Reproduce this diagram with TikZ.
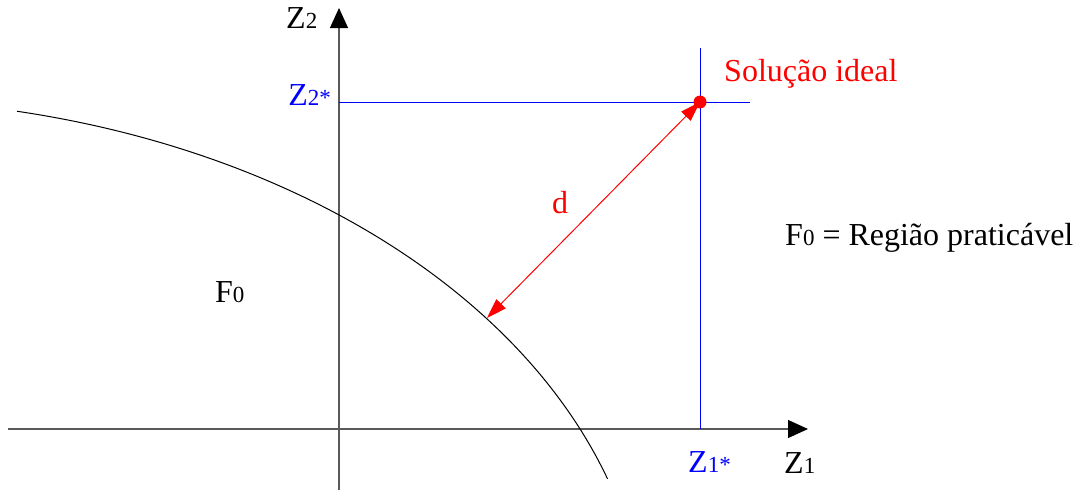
\documentclass[tikz,border=0pt]{standalone}
\usepackage{fontspec}
\setmainfont{Liberation Serif}
\newfontfamily\tms{Liberation Serif}
\usetikzlibrary{arrows.meta}
\newcommand\smn[1]{{\fontsize{23}{25}\selectfont #1}}
\begin{document}
\begin{tikzpicture}[x=1pt,y=-1pt,
  lbl/.style={inner sep=0pt,font=\tms\fontsize{32}{36}\selectfont},
  axis/.style={draw=black!65,line width=1.1pt,-{Triangle[length=20pt,width=18pt,black]}},
  guide/.style={draw=blue,line width=1pt},
  frontier/.style={draw=black,line width=1pt},
  dist/.style={draw=red,line width=1pt,{Triangle[length=20pt,width=13pt]}-{Triangle[length=20pt,width=13pt]}}]
\useasboundingbox (0,0) rectangle (1084,490);
% coordinates
\coordinate (yb) at (339,490);
\coordinate (yt) at (339,8);
\coordinate (xl) at (8,429);
\coordinate (xr) at (808,429);
\coordinate (hl) at (339,102);
\coordinate (hr) at (750,102);
\coordinate (vt) at (700,48);
\coordinate (vb) at (700,429);
\coordinate (ideal) at (700,102);
\coordinate (foot) at (487,318);
\coordinate (ec) at (-150,650);
% axes
\draw[axis] (xl) -- (xr);
\draw[axis] (yb) -- (yt);
% guide lines
\draw[guide] (hl) -- (hr);
\draw[guide] (vt) -- (vb);
% frontier (elliptic arc)
\draw[frontier] ([shift={(-77.9:797 and 551)}]ec) arc[start angle=-77.9, end angle=-18.1, x radius=797, y radius=551];
% distance
\draw[dist] (foot) -- (ideal);
\fill[red] (ideal) circle (6.5);
% labels
\node[lbl,anchor=base west] (z2) at (286,28) {Z\smn{2}};
\node[lbl,anchor=base east,text=blue] (z2s) at (331,105) {Z\smn{2*}};
\node[lbl,anchor=base west,text=blue] (z1s) at (688,472) {Z\smn{1*}};
\node[lbl,anchor=base west] (z1) at (784,473) {Z\smn{1}};
\node[lbl,anchor=base west,text=red] (sol) at (724,81) {Solução ideal};
\node[lbl,anchor=base west,text=red] (d) at (552,213) {d};
\node[lbl,anchor=base west] (f0) at (215,302) {F\smn{0}};
\node[lbl,anchor=base west] (leg) at (785,245) {F\smn{0} = Região praticável};
\end{tikzpicture}
\end{document}
